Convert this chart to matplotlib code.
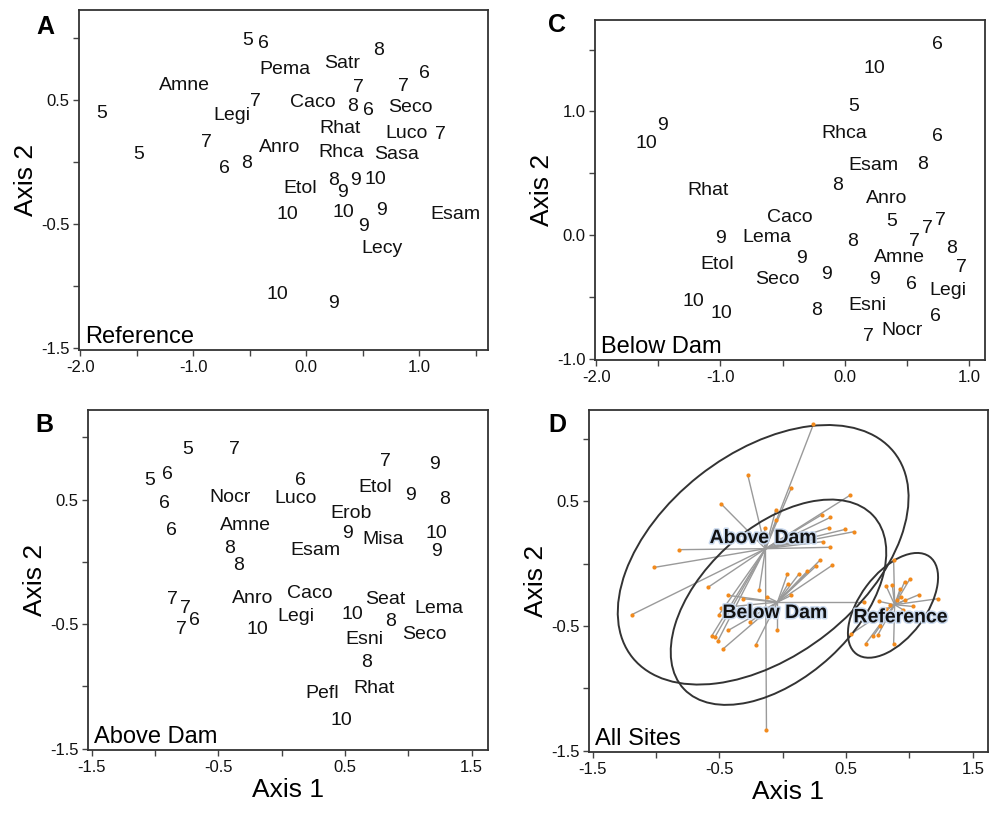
"""Ordination plots (NMS) for four site groups: Reference, Above Dam, Below Dam, All Sites."""
import numpy as np
import matplotlib
matplotlib.use("Agg")
import matplotlib.pyplot as plt
from matplotlib.patches import Ellipse
import matplotlib.patheffects as pe

plt.rcParams["font.family"] = ["Liberation Sans", "DejaVu Sans"]

# --- Panel A: Reference ---
a_lab = ["5", "5", "Amne", "5", "6", "Pema", "Satr", "8", "6", "7", "7", "7", "Legi",
         "Caco", "8", "6", "Seco", "Rhat", "Luco", "7", "7", "Anro", "Rhca", "Sasa",
         "6", "8", "Etol", "8", "9", "9", "10", "10", "10", "9", "9", "Esam", "Lecy",
         "10", "9"]
a_x = [-1.81, -1.48, -1.08, -0.52, -0.38, -0.19, 0.32, 0.64, 1.05, 0.86, 0.46, -0.45, -0.66,
       0.06, 0.41, 0.55, 0.92, 0.30, 0.89, 1.19, -0.88, -0.23, 0.31, 0.80,
       -0.72, -0.53, -0.05, 0.24, 0.32, 0.44, 0.61, -0.17, 0.33, 0.51, 0.67, 1.32, 0.67,
       -0.25, 0.24]
a_y = [0.39, 0.06, 0.62, 0.98, 0.96, 0.75, 0.80, 0.90, 0.72, 0.61, 0.60, 0.49, 0.38,
       0.48, 0.45, 0.42, 0.44, 0.27, 0.23, 0.22, 0.16, 0.12, 0.08, 0.06,
       -0.05, -0.01, -0.21, -0.15, -0.25, -0.15, -0.14, -0.42, -0.41, -0.52, -0.39, -0.42, -0.70,
       -1.07, -1.14]

# --- Panel B: Above Dam ---
b_lab = ["5", "7", "5", "6", "6", "6", "Nocr", "6", "Luco", "7", "Etol", "9", "9", "8",
         "Erob", "Amne", "9", "Misa", "10", "9", "8", "Esam", "8", "7", "7", "6", "7",
         "Anro", "Caco", "Legi", "10", "10", "Seat", "Lema", "8", "Seco", "Esni", "8",
         "Rhat", "Pefl", "10"]
b_x = [-0.74, -0.37, -1.04, -0.90, -0.93, -0.87, -0.41, 0.15, 0.11, 0.82, 0.74, 1.02, 1.21, 1.29,
       0.55, -0.29, 0.52, 0.80, 1.22, 1.22, -0.41, 0.27, -0.34, -0.86, -0.76, -0.69, -0.79,
       -0.23, 0.22, 0.11, -0.19, 0.56, 0.82, 1.24, 0.86, 1.13, 0.65, 0.67,
       0.73, 0.32, 0.47]
b_y = [0.90, 0.90, 0.65, 0.70, 0.47, 0.25, 0.52, 0.65, 0.51, 0.81, 0.60, 0.53, 0.78, 0.50,
       0.39, 0.29, 0.23, 0.18, 0.23, 0.08, 0.11, 0.09, -0.03, -0.30, -0.37, -0.47, -0.54,
       -0.29, -0.25, -0.44, -0.54, -0.42, -0.30, -0.37, -0.48, -0.58, -0.62, -0.81,
       -1.02, -1.06, -1.27]

# --- Panel C: Below Dam ---
c_lab = ["6", "10", "5", "9", "10", "Rhca", "6", "Esam", "8", "8", "Rhat", "Anro", "Caco",
         "5", "7", "7", "7", "9", "Lema", "8", "8", "7", "9", "Amne", "Etol", "9", "Seco",
         "9", "6", "Legi", "10", "10", "8", "Esni", "6", "Nocr", "7"]
c_x = [0.75, 0.24, 0.07, -1.47, -1.60, 0.00, 0.75, 0.23, 0.63, -0.06, -1.10, 0.34, -0.44,
       0.38, 0.67, 0.77, 0.56, -1.00, -0.63, 0.06, 0.86, 0.94, -0.35, 0.44, -1.03, -0.15, -0.54,
       0.24, 0.54, 0.83, -1.22, -0.99, -0.23, 0.18, 0.73, 0.46, 0.19]
c_y = [1.54, 1.35, 1.04, 0.89, 0.74, 0.82, 0.80, 0.56, 0.57, 0.40, 0.36, 0.30, 0.14,
       0.11, 0.05, 0.12, -0.05, -0.03, -0.02, -0.05, -0.11, -0.26, -0.19, -0.18, -0.24, -0.32, -0.36,
       -0.36, -0.40, -0.45, -0.54, -0.63, -0.61, -0.57, -0.66, -0.77, -0.82]

# --- Panel D: All Sites (spider plot) ---
above_x = [0.242, -0.276, 0.068, -0.489, -0.055, -0.053, -0.144, -0.820, -1.014, -1.193,
           0.531, 0.310, 0.376, 0.362, 0.494, 0.562, 0.318, 0.370, -0.588, -0.186,
           -0.504, -0.562, -0.536, -0.515, -0.129]
above_y = [1.116, 0.707, 0.608, 0.480, 0.432, 0.352, 0.287, 0.111, -0.031, -0.410,
           0.547, 0.392, 0.370, 0.287, 0.274, 0.255, 0.175, 0.130, -0.189, -0.210,
           -0.410, -0.582, -0.590, -0.624, -1.333]
below_x = [0.037, 0.129, 0.192, 0.260, 0.292, 0.389, 0.042, 0.068, 0.641, -0.431,
           -0.313, -0.123, -0.489, -0.260, -0.470, -0.431, -0.042, -0.215]
below_y = [-0.082, -0.082, -0.063, -0.023, 0.025, -0.015, -0.162, -0.255, -0.309, -0.255,
           -0.282, -0.269, -0.354, -0.469, -0.683, -0.536, -0.536, -0.656]
ref_x = [0.875, 0.759, 0.817, 0.864, 0.927, 0.961, 1.001, 0.930, 0.901, 0.961, 1.074,
         1.224, 1.027, 0.817, 0.843, 0.948, 0.764, 0.751, 0.712, 0.654, 0.875, 0.541]
ref_y = [0.025, -0.303, -0.183, -0.170, -0.202, -0.148, -0.127, -0.269, -0.295, -0.295, -0.250,
         -0.282, -0.344, -0.362, -0.336, -0.370, -0.504, -0.571, -0.584, -0.643, -0.643, -0.563]
groups = ["Above Dam", "Below Dam", "Reference"]
cent_x = [-0.137, -0.042, 0.883]
cent_y = [0.119, -0.309, -0.330]
glab_x = [-0.155, -0.063, 0.93]
glab_y = [0.20, -0.40, -0.435]
ell_cx = [-0.155, -0.034, 0.87]
ell_cy = [0.07, -0.31, -0.335]
ell_w = [2.64, 2.04, 0.97]
ell_h = [1.62, 1.20, 0.52]
ell_ang = [38.7, 43.0, 53.6]

W, H = 998, 813
fig = plt.figure(figsize=(W / 100, H / 100), dpi=100)


def make_ax(px_left, px_top, px_right, px_bot):
    ax = fig.add_axes([px_left / W, (H - px_bot) / H, (px_right - px_left) / W, (px_bot - px_top) / H])
    for s in ax.spines.values():
        s.set_color("#333333")
        s.set_linewidth(1.3)
    ax.tick_params(which="both", direction="out", length=4, width=1, color="#444444",
                   labelsize=12, pad=3, labelcolor="#111111")
    return ax


def set_ticks(ax, xmaj, xmin, ymaj, ymin):
    ax.set_xticks(xmaj)
    ax.set_xticklabels([f"{v:.1f}" for v in xmaj])
    ax.set_xticks(xmin, minor=True)
    ax.set_yticks(ymaj)
    ax.set_yticklabels([f"{v:.1f}" for v in ymaj])
    ax.set_yticks(ymin, minor=True)


def put_labels(ax, xs, ys, labs):
    for x, y, t in zip(xs, ys, labs):
        ax.text(x, y, t, ha="center", va="center", fontsize=14, color="#111111")


# A
axA = make_ax(79, 10, 488, 350)
axA.set_xlim(-2.01, 1.61)
axA.set_ylim(-1.52, 1.23)
set_ticks(axA, [-2, -1, 0, 1], [-1.5, -0.5, 0.5, 1.5], [-1.5, -0.5, 0.5], [-1.0, 0.0, 1.0])
put_labels(axA, a_x, a_y, a_lab)
axA.text(0.015, 0.005, "Reference", transform=axA.transAxes, fontsize=17, ha="left", va="bottom")
axA.set_ylabel("Axis 2", fontsize=19, labelpad=2)

# C
axC = make_ax(595, 20, 985, 360)
axC.set_xlim(-2.01, 1.13)
axC.set_ylim(-1.01, 1.74)
set_ticks(axC, [-2, -1, 0, 1], [-1.5, -0.5, 0.5], [-1.0, 0.0, 1.0], [-0.5, 0.5, 1.5])
put_labels(axC, c_x, c_y, c_lab)
axC.text(0.015, 0.005, "Below Dam", transform=axC.transAxes, fontsize=17, ha="left", va="bottom")
axC.set_ylabel("Axis 2", fontsize=19, labelpad=2)

# B
axB = make_ax(88, 410, 488, 750)
axB.set_xlim(-1.53, 1.63)
axB.set_ylim(-1.51, 1.22)
set_ticks(axB, [-1.5, -0.5, 0.5, 1.5], [-1.0, 0.0, 1.0], [-1.5, -0.5, 0.5], [-1.0, 0.0, 1.0])
put_labels(axB, b_x, b_y, b_lab)
axB.text(0.015, 0.005, "Above Dam", transform=axB.transAxes, fontsize=17, ha="left", va="bottom")
axB.set_ylabel("Axis 2", fontsize=19, labelpad=2)
axB.set_xlabel("Axis 1", fontsize=19, labelpad=2)

# D
axD = make_ax(589, 410, 988, 752)
axD.set_xlim(-1.53, 1.62)
axD.set_ylim(-1.51, 1.23)
set_ticks(axD, [-1.5, -0.5, 0.5, 1.5], [-1.0, 0.0, 1.0], [-1.5, -0.5, 0.5], [-1.0, 0.0, 1.0])
pts = [(above_x, above_y), (below_x, below_y), (ref_x, ref_y)]
for gi, (xs, ys) in enumerate(pts):
    for x, y in zip(xs, ys):
        axD.plot([cent_x[gi], x], [cent_y[gi], y], color="#9a9a9a", lw=1.0, zorder=2)
for gi, (xs, ys) in enumerate(pts):
    axD.scatter(xs, ys, s=9, color="#f28a1c", zorder=4, linewidths=0)
for i in range(3):
    axD.add_patch(Ellipse((ell_cx[i], ell_cy[i]), ell_w[i], ell_h[i], angle=ell_ang[i],
                          fill=False, ec="#333333", lw=1.4, zorder=3))
for i, g in enumerate(groups):
    axD.text(glab_x[i], glab_y[i], g, ha="center", va="center", fontsize=14,
             fontweight="bold", color="#111111", zorder=5,
             path_effects=[pe.withStroke(linewidth=2.2, foreground="#c9d9ee")])
axD.text(0.015, 0.005, "All Sites", transform=axD.transAxes, fontsize=17, ha="left", va="bottom")
axD.set_ylabel("Axis 2", fontsize=19, labelpad=2)
axD.set_xlabel("Axis 1", fontsize=19, labelpad=2)

# panel letters
for t, x, y in [("A", 45, 27), ("C", 557, 25), ("B", 44, 425), ("D", 557, 425)]:
    fig.text(x / W, 1 - y / H, t, fontsize=18, fontweight="bold", ha="center", va="center")

fig.savefig("out.png", dpi=100)
